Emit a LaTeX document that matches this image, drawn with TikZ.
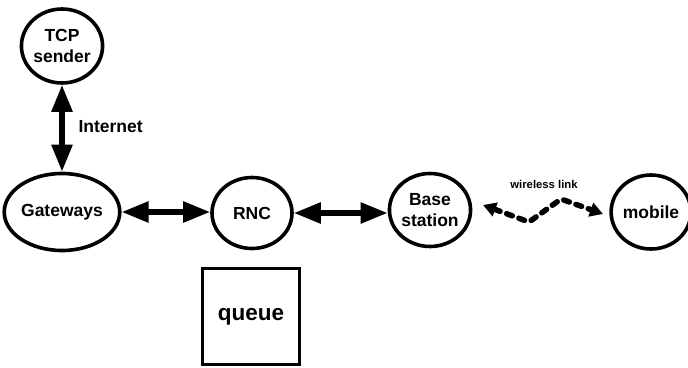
\documentclass[tikz,border=0pt]{standalone}
\usepackage{fontspec}
\setmainfont{Liberation Sans}
\usetikzlibrary{shapes.geometric,arrows.meta}
\begin{document}
\begin{tikzpicture}[x=1pt,y=-1pt,
  station/.style={ellipse,draw,line width=3.6pt,inner sep=0pt,align=center,
    font=\fontsize{17.5}{21}\selectfont\bfseries},
  bigarrow/.style={line width=5.5pt,{Triangle[length=27pt,width=20pt]}-{Triangle[length=27pt,width=20pt]}},
  radiolink/.style={line width=5.5pt,dash pattern=on 6pt off 7pt,line cap=round,
    rounded corners=3pt,{Triangle[length=13pt,width=14pt]}-{Triangle[length=13pt,width=14pt]}},
  qbox/.style={rectangle,draw,line width=3.8pt,minimum width=97pt,minimum height=96pt,
    font=\fontsize{22.5}{26}\selectfont\bfseries}]
  \useasboundingbox (0,0) rectangle (688,367);

  % network elements
  \node[station,minimum width=70pt,minimum height=74pt] (tcp) at (62,46) {TCP\\sender};
  \node[station,minimum width=100pt,minimum height=77pt] (gw) at (62,212) {Gateways};
  \node[station,minimum width=80pt,minimum height=71pt] (rnc) at (252,213) {RNC};
  \node[station,minimum width=80pt,minimum height=73pt] (bs) at (430,210) {Base\\station};
  \node[station,minimum width=72pt,minimum height=74pt] (mob) at (651,212) {mobile};
  \node[qbox] (queue) at (251,316.5) {queue};

  % wired links, kept horizontal
  \draw[bigarrow] (tcp.south) -- (gw.north);
  \draw[bigarrow] (gw.east) -- (gw.east -| rnc.west);
  \draw[bigarrow] (rnc.east) -- (rnc.east -| bs.west);
  \node[anchor=base west,font=\fontsize{17.5}{21}\selectfont\bfseries] (inet) at (75,132) {Internet};

  % radio link
  \coordinate (w1) at (483,205);
  \coordinate (w2) at (529,222);
  \coordinate (w3) at (561,199);
  \coordinate (w4) at (603,214);
  \draw[radiolink] (w1) -- (w2) -- (w3) -- (w4);
  \node[font=\fontsize{11.3}{13}\selectfont\bfseries] (wl) at (544,184) {wireless link};
\end{tikzpicture}
\end{document}
